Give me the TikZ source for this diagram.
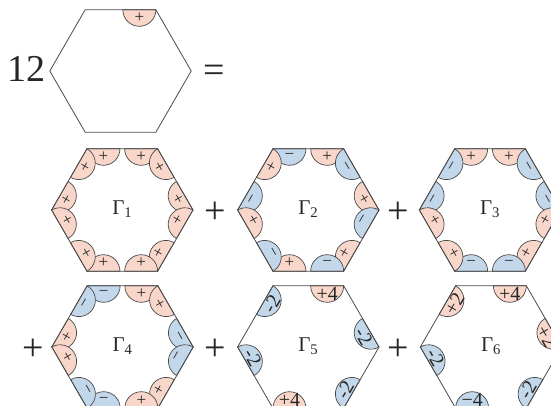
\documentclass[tikz,border=0pt]{standalone}
\usepackage{fontspec}
\setmainfont{Liberation Serif}
\definecolor{signpink}{HTML}{F9D6CA}
\definecolor{signblue}{HTML}{C3D7EB}
\definecolor{hexline}{HTML}{4A4A4A}
\usetikzlibrary{positioning}

% hexagon: name, centre x, centre y, font of the signs, 12 slots clockwise
% (slots 9 and 10 swap places in the list, the lower disk lies on top at the left corner)
\newcommand{\hexring}[5]{
  \begin{scope}[shift={(#2,#3)}]
    \foreach \col/\sgn [count=\n from 0] in {#5}{
      \edef\slotcol{\col}
      \ifx\slotcol\nosign\else
        \pgfmathtruncatemacro\slotno{\n==9 ? 10 : (\n==10 ? 9 : \n)}
        \pgfmathtruncatemacro\edgeno{int(\slotno/2)}
        \pgfmathsetmacro\cx{(2*mod(\slotno,2)-1)*18.85}
        \pgfmathsetmacro\flip{(\edgeno>1 && \edgeno<5) ? 180 : 0}
        \pgfmathsetmacro\startang{180-60*\edgeno}
        \path[rotate=-60*\edgeno] (\cx-16.5,61.2) coordinate (#1-\n-start);
        \draw[disk, \col] (#1-\n-start) arc[start angle=\startang, delta angle=180, radius=16.5] -- cycle;
        \begin{scope}[rotate=-60*\edgeno]
          \node[sign, rotate=\flip, font=#4] (#1-\n) at (\cx,53.2) {\sgn};
        \end{scope}
      \fi
    }
    \draw[hex] (120:70.7) -- (60:70.7) -- (0:70.7) -- (-60:70.7)
      -- (-120:70.7) -- (180:70.7) -- cycle;
  \end{scope}
}
\def\nosign{sn}

\begin{document}
\begin{tikzpicture}[
    x=1pt, y=1pt,
    hex/.style={draw=hexline, line width=0.8pt, line join=miter},
    disk/.style={draw=hexline, line width=0.7pt},
    sp/.style={fill=signpink},
    sm/.style={fill=signblue},
    sign/.style={transform shape, inner sep=0pt, text=black!85},
    gam/.style={font=\fontsize{21}{21}\selectfont, inner sep=0pt, text=black!85},
    big/.style={font=\fontsize{38}{38}\selectfont, inner sep=0pt, text=black!85}
  ]
  \useasboundingbox (0,0) rectangle (551,406);
  \clip (0,0) rectangle (551,406);

  \node[big] (twelve) at (27,337) {12};
  \hexring{top}{120.5}{335}{\fontsize{17}{17}\selectfont}{sn/,sp/+,sn/,sn/,sn/,sn/,sn/,sn/,sn/,sn/,sn/,sn/}
  \node[big] (equals) at (214,332) {=};

  \hexring{a}{122.3}{196}{\fontsize{17}{17}\selectfont}{sp/+,sp/+,sp/+,sp/+,sp/+,sp/+,sp/+,sp/+,sp/+,sp/+,sp/+,sp/+}
  \node[gam] (gamma1) at (122.3,197) {Γ\textsubscript{1}};
  \node[big] (plusa) at (215,193) {+};
  \hexring{b}{308.3}{196}{\fontsize{17}{17}\selectfont}{sm/−,sp/+,sm/−,sp/+,sm/−,sp/+,sm/−,sp/+,sm/−,sm/−,sp/+,sp/+}
  \node[gam] (gamma2) at (308.3,197) {Γ\textsubscript{2}};
  \node[big] (plusb) at (398.5,193) {+};
  \hexring{c}{490}{196}{\fontsize{17}{17}\selectfont}{sp/+,sp/+,sm/−,sm/−,sp/+,sp/+,sm/−,sm/−,sp/+,sm/−,sp/+,sm/−}
  \node[gam] (gamma3) at (490,197) {Γ\textsubscript{3}};

  \node[big] (plusc) at (33,56) {+};
  \hexring{d}{122.5}{59}{\fontsize{17}{17}\selectfont}{sm/−,sp/+,sp/+,sm/−,sm/−,sp/+,sp/+,sm/−,sm/−,sp/+,sp/+,sm/−}
  \node[gam] (gamma4) at (122.5,60) {Γ\textsubscript{4}};
  \node[big] (plusd) at (215,56) {+};
  \hexring{e}{308.3}{59}{\fontsize{20}{20}\selectfont}{sn/,sp/+4,sn/,sm/-2,sn/,sm/-2,sn/,sp/+4,sn/,sn/,sm/-2,sm/-2}
  \node[gam] (gamma5) at (308.3,60) {Γ\textsubscript{5}};
  \node[big] (pluse) at (398.5,56) {+};
  \hexring{f}{491}{59}{\fontsize{20}{20}\selectfont}{sn/,sp/+4,sn/,sp/+2,sn/,sm/-2,sn/,sm/−4,sn/,sn/,sm/-2,sp/+2}
  \node[gam] (gamma6) at (491,60) {Γ\textsubscript{6}};
\end{tikzpicture}
\end{document}
